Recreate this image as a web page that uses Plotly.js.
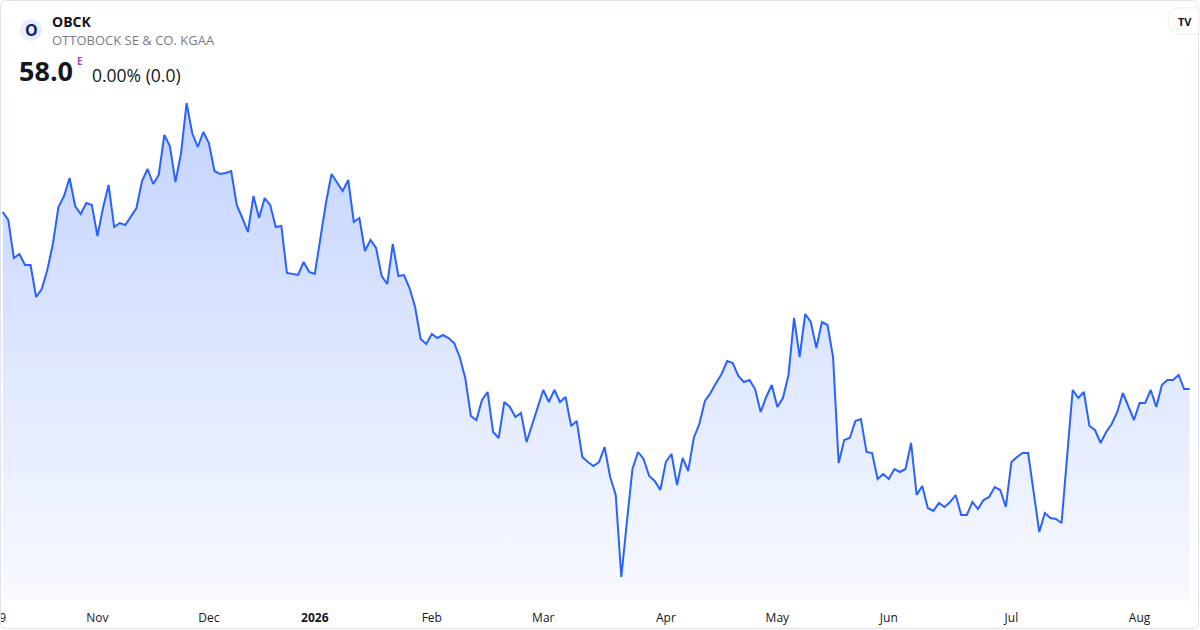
<!DOCTYPE html>
<html><head><meta charset="utf-8">
<script src="https://cdn.plot.ly/plotly-3.0.1.min.js"></script>
<style>html,body{margin:0;padding:0;background:#fff;overflow:hidden}#chart{width:1200px;height:630px}</style>
</head><body><div id="chart"></div>
<script>
// ---- data ----
const startDate = '2025-10-09';
const holidays = ['2025-12-24','2025-12-25','2025-12-26','2025-12-31','2026-01-01','2026-04-03','2026-04-06','2026-05-01'];
const closePrices = [
75.7,74.9,71.1,71.5,70.4,70.4,67.2,68.0,69.9,72.5,
76.2,77.3,79.1,76.3,75.5,76.6,76.4,73.3,76.1,78.4,
74.2,74.6,74.4,75.3,76.1,78.8,80.0,78.5,79.4,83.4,
82.3,78.7,81.6,86.6,83.6,82.2,83.7,82.6,79.8,79.5,
79.6,79.8,76.4,75.1,73.7,77.3,75.1,77.1,76.4,74.2,
74.3,69.6,69.5,69.4,70.7,69.7,69.5,72.9,76.6,79.5,
78.6,77.8,78.9,74.7,75.1,71.8,72.9,72.1,69.3,68.5,
72.5,69.3,69.4,68.1,66.2,63.0,62.5,63.5,63.1,63.4,
63.1,62.6,61.2,59.1,55.3,54.9,56.9,57.7,53.7,53.1,
56.7,56.2,55.2,55.6,52.7,54.4,56.2,57.9,56.7,57.9,
56.7,57.2,54.3,54.8,51.2,50.7,50.3,50.7,52.2,49.2,
47.4,39.2,44.7,50.0,51.7,51.0,49.3,48.8,47.9,50.7,
51.5,48.4,51.1,49.8,53.1,54.5,56.8,57.6,58.6,59.5,
60.8,60.6,59.3,58.7,58.9,58.0,55.7,57.2,58.4,56.2,
57.1,59.4,65.1,61.2,65.5,64.7,62.1,64.7,64.4,61.2,
50.6,52.9,53.1,54.8,55.0,51.7,51.6,49.0,49.5,49.0,
50.0,49.7,50.0,52.6,47.4,48.3,46.1,45.8,46.6,46.2,
46.7,47.4,45.4,45.4,46.7,46.0,46.9,47.2,48.2,47.9,
46.2,50.7,51.2,51.6,51.6,47.7,43.7,45.6,45.1,45.0,
44.6,51.3,57.9,57.1,57.7,54.3,53.9,52.6,53.7,54.5,
55.7,57.6,56.2,54.9,56.6,56.6,57.9,56.2,58.4,58.9,
58.9,59.4,58.0,58.0
];
const tickDates = ['2025-10-09','2025-11-03','2025-12-01','2026-01-02','2026-02-02','2026-03-02','2026-04-01','2026-05-04','2026-06-01','2026-07-01','2026-08-03'];
const tickLabels = ['9','Nov','Dec','<b>2026</b>','Feb','Mar','Apr','May','Jun','Jul','Aug'];
const ticker = 'OBCK';
const companyName = 'OTTOBOCK SE & CO. KGAA';
const lastPrice = '58.0';
const changeText = '0.00% (0.0)';

// trading-day calendar (weekdays minus exchange holidays)
function tradingDates(start, n, hol) {
  const out = []; const d = new Date(start + 'T00:00:00Z');
  while (out.length < n) {
    const dow = d.getUTCDay(); const s = d.toISOString().slice(0, 10);
    if (dow !== 0 && dow !== 6 && !hol.includes(s)) out.push(s);
    d.setUTCDate(d.getUTCDate() + 1);
  }
  return out;
}
const dates = tradingDates(startDate, closePrices.length, holidays);

const W = 1200, PH = 600;
const px = v => v / W, py = v => 1 - v / PH;
const FONT = '"Open Sans", "Noto Sans", sans-serif';

const trace = {
  x: dates, y: closePrices, type: 'scatter', mode: 'lines',
  line: {color: 'rgb(41,98,255)', width: 2},
  fill: 'tozeroy',
  fillgradient: {type: 'vertical', start: 36.9, stop: 86.6,
    colorscale: [[0, 'rgba(41,98,255,0.03)'], [1, 'rgba(41,98,255,0.28)']]},
  hoverinfo: 'skip'
};

const r = 6;
const bx0 = px(0.5), bx1 = px(1198.5), by0 = py(0.5), by1 = py(628.5);
const rx = r / W, ry = r / PH;
const borderPath = `M ${bx0+rx} ${by0} L ${bx1-rx} ${by0} Q ${bx1} ${by0} ${bx1} ${by0-ry} L ${bx1} ${by1+ry} Q ${bx1} ${by1} ${bx1-rx} ${by1} L ${bx0+rx} ${by1} Q ${bx0} ${by1} ${bx0} ${by1+ry} L ${bx0} ${by0-ry} Q ${bx0} ${by0} ${bx0+rx} ${by0} Z`;

const layout = {
  width: 1200, height: 630,
  margin: {l: 0, r: 0, t: 0, b: 30, pad: 0},
  paper_bgcolor: '#ffffff', plot_bgcolor: '#ffffff',
  showlegend: false,
  font: {family: FONT, color: '#131722'},
  xaxis: {
    type: 'date',
    range: ['2025-10-08 12:22', '2026-08-17 20:10'],
    rangebreaks: [{bounds: ['sat', 'mon']}, {values: holidays}],
    tickmode: 'array', tickvals: tickDates, ticktext: tickLabels,
    showgrid: false, zeroline: false, showline: false, ticks: '',
    ticklabelstandoff: 9, ticklabeloverflow: 'allow',
    tickfont: {size: 12, color: '#131722', family: FONT},
    fixedrange: true
  },
  yaxis: {
    range: [36.9, 96.9], showgrid: false, zeroline: false, showline: false,
    showticklabels: false, ticks: '', fixedrange: true
  },
  shapes: [
    {type: 'path', xref: 'paper', yref: 'paper', path: borderPath,
     line: {color: 'rgb(224,227,235)', width: 1}, fillcolor: 'rgba(0,0,0,0)', layer: 'above'},
    {type: 'circle', xref: 'paper', yref: 'paper', x0: px(20), x1: px(42), y0: py(41), y1: py(19),
     fillcolor: 'rgb(234,238,250)', line: {width: 0}},
    {type: 'path', xref: 'paper', yref: 'paper',
     path: `M ${px(1180)} ${py(8)} L ${px(1199)} ${py(8)} L ${px(1199)} ${py(34)} L ${px(1180)} ${py(34)} Q ${px(1168)} ${py(34)} ${px(1168)} ${py(21)} Q ${px(1168)} ${py(8)} ${px(1180)} ${py(8)} Z`,
     fillcolor: '#ffffff', line: {color: 'rgba(0,0,0,0.07)', width: 1}}
  ],
  annotations: [
    {xref: 'paper', yref: 'paper', x: px(31), y: py(30), text: '<b>O</b>', showarrow: false,
     xanchor: 'center', yanchor: 'middle', font: {size: 16, color: '#0d1f73', family: FONT}},
    {xref: 'paper', yref: 'paper', x: px(50), y: py(21), text: '<b>' + ticker + '</b>', showarrow: false,
     xanchor: 'left', yanchor: 'middle', font: {size: 14, color: '#131722', family: FONT}},
    {xref: 'paper', yref: 'paper', x: px(50), y: py(40), text: companyName, showarrow: false,
     xanchor: 'left', yanchor: 'middle', font: {size: 13, color: 'rgb(120,123,134)', family: FONT}},
    {xref: 'paper', yref: 'paper', x: px(17), y: py(71), text: '<b>' + lastPrice + '</b>', showarrow: false,
     xanchor: 'left', yanchor: 'middle', font: {size: 27, color: '#131722', family: FONT}},
    {xref: 'paper', yref: 'paper', x: px(75), y: py(61), text: '<b>E</b>', showarrow: false,
     xanchor: 'left', yanchor: 'middle', font: {size: 10, color: 'rgb(171,71,188)', family: FONT}},
    {xref: 'paper', yref: 'paper', x: px(90), y: py(75), text: changeText, showarrow: false,
     xanchor: 'left', yanchor: 'middle', font: {size: 17.5, color: '#131722', family: FONT}},
    {xref: 'paper', yref: 'paper', x: px(1185), y: py(21), text: '<b>TV</b>', showarrow: false,
     xanchor: 'center', yanchor: 'middle', font: {size: 11, color: '#131722', family: FONT}}
  ]
};

Plotly.newPlot('chart', [trace], layout, {staticPlot: true, displayModeBar: false});
</script>
</body></html>
